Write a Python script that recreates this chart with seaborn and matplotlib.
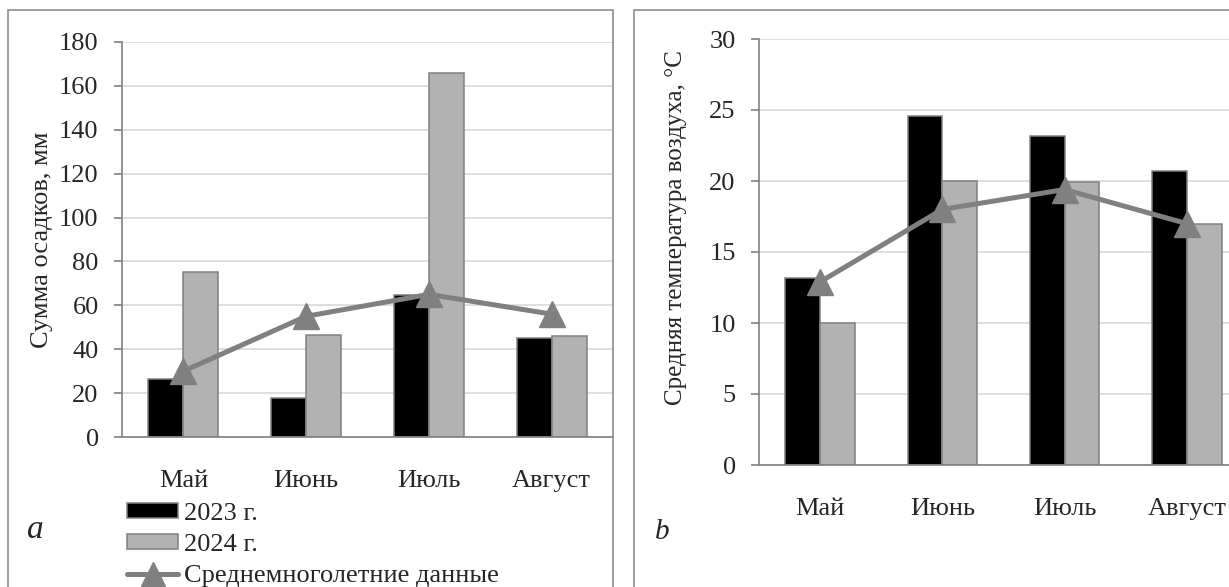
import matplotlib
matplotlib.use('Agg')
import matplotlib.pyplot as plt
from matplotlib.patches import Patch, Rectangle
from matplotlib.lines import Line2D
from matplotlib.ticker import FixedLocator
import seaborn as sns
import pandas as pd

# data
months = ['Май', 'Июнь', 'Июль', 'Август']
years = ['2023 г.', '2024 г.']
precip_2023 = [26.5, 18, 64.5, 45]
precip_2024 = [75, 46.5, 166, 46]
precip_mean = [30, 55, 65, 56]
temp_2023 = [13.2, 24.6, 23.2, 20.7]
temp_2024 = [10, 20, 19.9, 17]
temp_mean = [12.9, 18, 19.4, 17]
mean_label = 'Среднемноголетние данные'

BAR_COLORS = ['#000000', '#b2b2b2']
EDGE = '#808080'
LINE = '#808080'
GRID = '#d9d9d9'

sns.set_style('white')
plt.rcParams['font.family'] = ['Liberation Serif', 'DejaVu Serif']
plt.rcParams['font.size'] = 19

W, H = 1229, 587
fig = plt.figure(figsize=(W / 100, H / 100), dpi=100)


def px_axes(left, top, right, bottom):
    return fig.add_axes([left / W, 1 - bottom / H, (right - left) / W, (bottom - top) / H])


def long_df(v23, v24):
    return pd.DataFrame({
        'month': months * 2,
        'year': [years[0]] * 4 + [years[1]] * 4,
        'value': list(v23) + list(v24),
    })


def draw_panel(ax, v23, v24, vmean, ymax, ystep, ylabel, label_size):
    sns.barplot(data=long_df(v23, v24), x='month', y='value', hue='year',
                palette=BAR_COLORS, width=0.57, edgecolor=EDGE, linewidth=1.1,
                legend=False, ax=ax, zorder=2)
    ax.plot(range(len(months)), vmean, color=LINE, lw=3.6, marker='^',
            markersize=19, markeredgecolor=LINE, zorder=3)
    ax.set_xlim(-0.5, len(months) - 0.5)
    ax.set_ylim(0, ymax)
    ax.set_yticks(range(0, ymax + 1, ystep))
    ax.yaxis.grid(True, color=GRID, lw=1.2, zorder=0)
    ax.set_axisbelow(True)
    for s in ['top', 'right']:
        ax.spines[s].set_visible(False)
    for s in ['left', 'bottom']:
        ax.spines[s].set_color(EDGE)
        ax.spines[s].set_linewidth(1.2)
    ax.xaxis.set_minor_locator(FixedLocator([i - 0.5 for i in range(len(months) + 1)]))
    ax.tick_params(axis='x', which='major', length=0, pad=24, labelsize=19)
    ax.tick_params(axis='x', which='minor', length=5.8, color=EDGE, width=1.2, direction='out')
    ax.tick_params(axis='y', length=5.8, color=EDGE, width=1.2, pad=11, labelsize=19, left=True)
    ax.set_xlabel('')
    ax.set_ylabel(ylabel, fontsize=label_size)


# panel a: precipitation
ax1 = px_axes(122, 42, 613, 437)
draw_panel(ax1, precip_2023, precip_2024, precip_mean, 180, 20, 'Сумма осадков, мм', 19)
ax1.yaxis.set_label_coords(-0.14, 0.5)

# panel b: air temperature
ax2 = px_axes(759, 39, 1248, 465)
draw_panel(ax2, temp_2023, temp_2024, temp_mean, 30, 5, 'Средняя температура воздуха, °С', 18)
ax2.yaxis.set_label_coords(-0.148, 0.557)

# legend under panel a
handles = [
    Patch(facecolor=BAR_COLORS[0], edgecolor=EDGE, linewidth=1.1, label=years[0]),
    Patch(facecolor=BAR_COLORS[1], edgecolor=EDGE, linewidth=1.1, label=years[1]),
    Line2D([0], [0], color=LINE, lw=3.6, marker='^', markersize=17, label=mean_label),
]
fig.legend(handles=handles, loc='upper left', bbox_to_anchor=(127 / W, 1 - 503 / H),
           bbox_transform=fig.transFigure, frameon=False, fontsize=19,
           borderpad=0, borderaxespad=0, handlelength=1.95, handleheight=0.5,
           handletextpad=0.2, labelspacing=0.34)

# panel frames and letters
for x0, x1 in [(8, 613), (634, 1260)]:
    fig.add_artist(Rectangle((x0 / W, -0.05), (x1 - x0) / W, 1.05 - 9.5 / H,
                             transform=fig.transFigure, fill=False,
                             edgecolor='#8c8c8c', linewidth=1.2))
fig.text(35 / W, 1 - 530 / H, 'a', fontsize=24, style='italic', ha='center', va='center')
fig.text(662 / W, 1 - 532 / H, 'b', fontsize=21, style='italic', ha='center', va='center')

fig.savefig('out.png', dpi=100)
